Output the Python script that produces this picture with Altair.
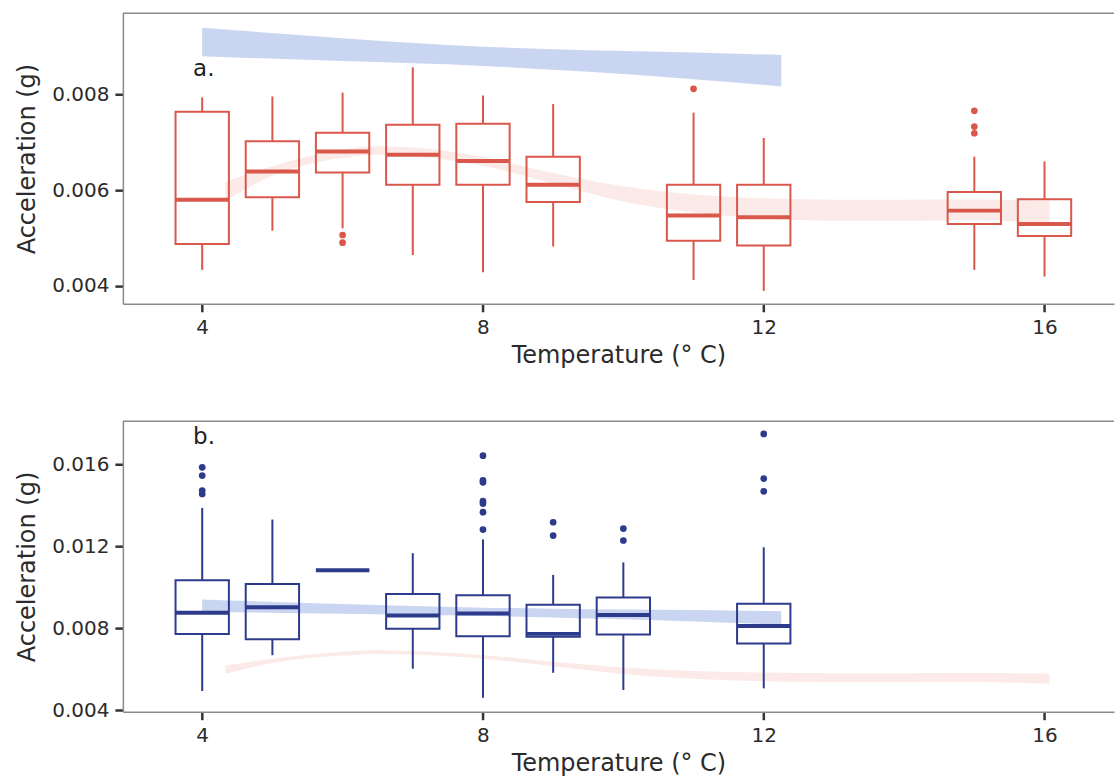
import altair as alt
import pandas as pd

# ---------------- panel a (red) ----------------
a_temp = [4, 5, 6, 7, 8, 9, 11, 12, 15, 16]
a_min = [0.00433, 0.00515, 0.00520, 0.00464, 0.00428, 0.00482, 0.00412, 0.00389, 0.00433, 0.00419]
a_q1 = [0.00487, 0.00585, 0.00637, 0.00611, 0.00611, 0.00575, 0.00494, 0.00484, 0.00529, 0.00504]
a_med = [0.00580, 0.00639, 0.00681, 0.00674, 0.00661, 0.00611, 0.00547, 0.00543, 0.00557, 0.00529]
a_q3 = [0.00764, 0.00702, 0.00720, 0.00737, 0.00739, 0.00670, 0.00611, 0.00611, 0.00596, 0.00581]
a_max = [0.00794, 0.00796, 0.00804, 0.00857, 0.00798, 0.00780, 0.00762, 0.00709, 0.00670, 0.00660]
a_out_temp = [6, 6, 11, 15, 15, 15]
a_out_val = [0.00506, 0.00490, 0.00812, 0.00766, 0.00733, 0.00719]

# ---------------- panel b (blue) ----------------
b_temp = [4, 5, 6, 7, 8, 9, 10, 12]
b_min = [0.00493, 0.00668, 0.01083, 0.00602, 0.00460, 0.00582, 0.00498, 0.00506]
b_q1 = [0.00772, 0.00746, 0.01083, 0.00797, 0.00761, 0.00758, 0.00769, 0.00725]
b_med = [0.00875, 0.00902, 0.01083, 0.00862, 0.00872, 0.00772, 0.00864, 0.00810]
b_q3 = [0.01034, 0.01015, 0.01083, 0.00967, 0.00961, 0.00914, 0.00950, 0.00919]
b_max = [0.01387, 0.01330, 0.01083, 0.01166, 0.01233, 0.01060, 0.01121, 0.01195]
b_out_temp = [4, 4, 4, 4, 8, 8, 8, 8, 8, 8, 8, 9, 9, 10, 10, 12, 12, 12]
b_out_val = [0.01585, 0.01545, 0.01472, 0.01455, 0.01642, 0.01522, 0.01512, 0.01420,
             0.01408, 0.01366, 0.01281, 0.01317, 0.01252, 0.01286, 0.01228, 0.01748,
             0.01530, 0.01468]

# ---------------- smoothed trend bands (shared) ----------------
blue_t = [4.0, 6.0, 8.0, 9.0, 10.0, 11.0, 12.25]
blue_lo = [0.00880, 0.00870, 0.00860, 0.00852, 0.00843, 0.00832, 0.00817]
blue_hi = [0.00940, 0.00918, 0.00900, 0.00895, 0.00891, 0.00888, 0.00883]

red_t = [4.33, 5.0, 6.0, 6.5, 7.0, 8.0, 9.0, 10.0, 11.0, 12.0, 13.0, 14.0, 15.0, 16.07]
red_mid = [0.00597, 0.00640, 0.00676, 0.00683, 0.00680, 0.00660, 0.00625, 0.00592,
           0.00572, 0.00562, 0.00558, 0.00558, 0.00559, 0.00553]
red_half = [0.00020, 0.00010, 0.00009, 0.00009, 0.00009, 0.00009, 0.00011, 0.00016,
            0.00019, 0.00021, 0.00022, 0.00022, 0.00022, 0.00024]

RED = "#d9574b"
BLUE = "#2d3b8c"
FONT = "DejaVu Sans"
PW = 992
PH = 290.7

blue_df = pd.DataFrame({"t": blue_t, "lo": blue_lo, "hi": blue_hi})
red_df = pd.DataFrame({"t": red_t, "mid": red_mid, "half": red_half})


def panel(temp, mn, q1, med, q3, mx, out_t, out_v, color, ydom, yvals, label, label_t, label_v):
    stats = pd.DataFrame({"t": temp, "mn": mn, "q1": q1, "med": med, "q3": q3, "mx": mx})
    outs = pd.DataFrame({"t": out_t, "v": out_v})
    lab = pd.DataFrame({"t": [label_t], "v": [label_v], "s": [label]})

    xs = alt.Scale(domain=[2.87, 16.99], nice=False, zero=False)
    ys = alt.Scale(domain=ydom, nice=False, zero=False)
    xa = alt.Axis(values=[4, 8, 12, 16], format="d", title="Temperature (° C)")
    ya = alt.Axis(values=yvals, format=".3f", title="Acceleration (g)")

    def X(f):
        return alt.X(f, type="quantitative", scale=xs, axis=xa)

    def Y(f):
        return alt.Y(f, type="quantitative", scale=ys, axis=ya)

    blue = alt.Chart(blue_df).mark_area(color="#c4d0f0", opacity=0.9, interpolate="monotone", clip=True).encode(
        x=X("t"), y=Y("lo"), y2="hi")
    red = alt.Chart(red_df).transform_calculate(
        lo="datum.mid - datum.half", hi="datum.mid + datum.half"
    ).mark_area(color="#fbe8e4", opacity=0.9, interpolate="monotone", clip=True).encode(
        x=X("t"), y=Y("lo"), y2="hi")

    base = alt.Chart(stats).transform_calculate(x1="datum.t - 0.38", x2="datum.t + 0.38")
    w_lo = base.mark_rule(color=color, strokeWidth=2).encode(x=X("t"), y=Y("mn"), y2="q1")
    w_hi = base.mark_rule(color=color, strokeWidth=2).encode(x=X("t"), y=Y("q3"), y2="mx")
    box = base.mark_rect(fillOpacity=0, stroke=color, strokeWidth=2).encode(
        x=X("x1"), x2="x2", y=Y("q1"), y2="q3")
    mline = base.mark_rule(color=color, strokeWidth=4).encode(x=X("x1"), x2="x2", y=Y("med"))
    pts = alt.Chart(outs).mark_circle(color=color, size=45, opacity=1).encode(x=X("t"), y=Y("v"))
    txt = alt.Chart(lab).mark_text(align="left", baseline="alphabetic", fontSize=23, font=FONT,
                                   color="#222222").encode(x=X("t"), y=Y("v"), text="s:N")
    border = alt.Chart(pd.DataFrame({"d": [0]})).mark_rule(color="#8a8a8a", strokeWidth=1.5).encode(
        x=alt.value(0), x2=alt.value(PW), y=alt.value(0), y2=alt.value(0))

    return alt.layer(blue, red, w_lo, w_hi, box, mline, pts, txt, border).properties(
        width=PW, height=PH, view=alt.ViewBackground(strokeOpacity=0, strokeWidth=0))


top = panel(a_temp, a_min, a_q1, a_med, a_q3, a_max, a_out_temp, a_out_val, RED,
            [0.00362, 0.0097], [0.004, 0.006, 0.008], "a.", 3.87, 0.00838)
bottom = panel(b_temp, b_min, b_q1, b_med, b_q3, b_max, b_out_temp, b_out_val, BLUE,
               [0.00392, 0.0181], [0.004, 0.008, 0.012, 0.016], "b.", 3.87, 0.0170)

chart = alt.vconcat(top, bottom, spacing=117.3, bounds="flush").properties(
    padding={"left": 15, "top": 12, "right": 0, "bottom": 0}
).configure_view(stroke="transparent", strokeWidth=0, strokeOpacity=0).configure_axis(
    grid=False,
    domainColor="#8a8a8a", domainWidth=1.5,
    tickColor="#333333", tickWidth=2.5, tickSize=8,
    labelFont=FONT, labelFontSize=20, labelColor="#2b2b2b", labelPadding=6,
    titleFont=FONT, titleFontSize=24, titleFontWeight="normal", titleColor="#2b2b2b",
).configure_axisY(titlePadding=12.7).configure_axisX(titlePadding=6)

chart.save("out.html", embed_options={"renderer": "svg", "actions": False})
